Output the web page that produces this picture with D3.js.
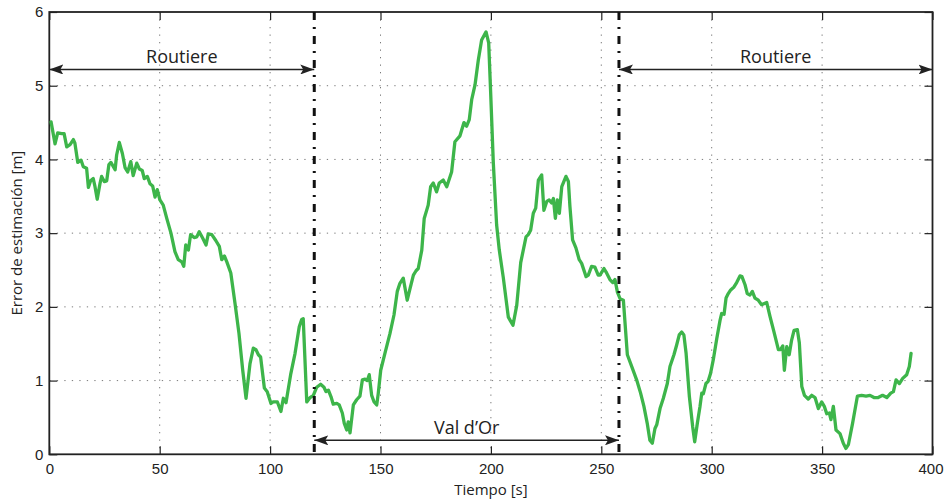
<!DOCTYPE html>
<html>
<head>
<meta charset="utf-8">
<script src="https://cdn.jsdelivr.net/npm/d3@7"></script>
<style>
  html, body { margin: 0; padding: 0; background: #fff; }
  svg { display: block; font-family: "Open Sans", "Noto Sans", sans-serif; }
</style>
</head>
<body>
<svg id="chart" width="944" height="499"></svg>
<script>
// Position-estimation error over time, with driving segments marked
const time = [0.8, 2.6, 3.8, 5.6, 6.7, 7.9, 9.4, 10.9, 11.6, 12.9, 14.4, 15.4, 16.9, 17.7, 18.7, 19.9, 20.7, 21.7, 23.0, 23.7,
  24.9, 26.0, 27.0, 27.9, 29.8, 30.5, 31.7, 33.1, 34.3, 35.5, 36.9, 38.0, 39.6, 40.8, 42.1, 43.0, 44.4, 45.6, 46.8, 47.9,
  48.9, 50.1, 51.6, 53.2, 55.1, 56.9, 58.4, 60.0, 60.9, 61.8, 63.0, 64.0, 65.6, 66.8, 67.9, 69.5, 71.0, 72.0, 73.6, 75.4,
  77.0, 78.1, 79.3, 80.4, 82.2, 84.1, 85.9, 87.6, 89.1, 90.9, 92.4, 93.6, 94.7, 95.7, 97.4, 98.7, 100.4, 101.4, 103.3, 104.9,
  106.0, 107.2, 109.3, 111.3, 113.2, 114.3, 115.0, 116.6, 118.1, 119.6, 121.1, 122.9, 124.4, 125.3, 126.4, 127.6, 128.6, 130.2, 131.3, 132.7,
  133.6, 134.7, 135.4, 136.2, 137.7, 139.2, 140.7, 141.8, 143.0, 144.0, 144.9, 146.0, 147.1, 148.3, 149.0, 150.1, 152.0, 154.3, 156.1, 157.6,
  158.8, 160.3, 162.1, 163.4, 164.9, 166.1, 167.1, 168.7, 169.8, 171.6, 172.7, 173.9, 175.4, 176.6, 178.4, 180.0, 182.2, 183.7, 186.0, 187.8,
  189.0, 190.2, 191.3, 192.8, 194.3, 195.8, 197.8, 199.0, 199.9, 201.1, 202.6, 203.8, 205.6, 207.9, 210.0, 211.7, 213.5, 215.9, 216.9, 218.0,
  219.2, 220.3, 221.5, 223.0, 224.0, 225.3, 226.4, 227.5, 228.3, 229.2, 230.1, 231.0, 232.1, 234.0, 235.1, 235.8, 237.0, 238.5, 240.0, 241.1,
  243.1, 244.1, 245.6, 247.1, 248.6, 249.4, 251.2, 252.4, 253.9, 255.2, 256.2, 257.3, 258.5, 260.0, 261.8, 263.8, 266.0, 267.8, 269.3, 270.8,
  272.0, 273.1, 274.3, 275.1, 276.6, 278.1, 279.9, 281.1, 282.9, 284.1, 285.3, 286.4, 287.4, 288.4, 289.9, 291.4, 292.3, 293.5, 294.7, 295.5,
  296.2, 297.4, 298.4, 299.5, 300.7, 302.3, 303.8, 304.5, 305.6, 306.5, 307.5, 308.6, 310.1, 311.3, 312.8, 313.7, 315.1, 316.1, 317.3, 318.4,
  319.6, 321.1, 322.6, 324.1, 324.9, 326.4, 328.2, 330.2, 331.2, 332.2, 332.9, 334.0, 335.1, 336.2, 337.3, 338.8, 339.7, 340.8, 342.0, 343.7,
  345.3, 346.8, 348.3, 349.8, 351.0, 352.1, 353.3, 354.0, 355.1, 356.3, 358.1, 359.6, 360.8, 361.9, 363.8, 366.0, 367.9, 369.9, 371.7, 373.5,
  375.4, 377.4, 379.3, 381.1, 382.3, 383.5, 385.0, 386.5, 388.3, 389.5, 390.3];

const error = [4.51, 4.21, 4.36, 4.35, 4.35, 4.17, 4.20, 4.27, 4.22, 3.96, 3.99, 3.90, 3.88, 3.62, 3.71, 3.74, 3.63, 3.46, 3.68, 3.77,
  3.70, 3.71, 3.93, 3.96, 3.86, 4.06, 4.23, 4.08, 3.89, 3.83, 3.97, 3.78, 3.95, 3.87, 3.85, 3.74, 3.77, 3.67, 3.64, 3.49,
  3.59, 3.45, 3.38, 3.20, 3.00, 2.75, 2.64, 2.61, 2.55, 2.84, 2.77, 2.98, 2.94, 2.95, 3.02, 2.93, 2.84, 2.99, 2.98, 2.90,
  2.82, 2.64, 2.69, 2.61, 2.46, 2.05, 1.64, 1.14, 0.76, 1.23, 1.44, 1.42, 1.35, 1.32, 0.90, 0.85, 0.69, 0.71, 0.71, 0.58,
  0.76, 0.70, 1.08, 1.37, 1.73, 1.83, 1.84, 0.71, 0.77, 0.80, 0.91, 0.95, 0.91, 0.85, 0.87, 0.78, 0.68, 0.69, 0.67, 0.56,
  0.42, 0.33, 0.44, 0.29, 0.67, 0.74, 0.79, 1.01, 1.02, 1.00, 1.08, 0.80, 0.71, 0.67, 0.83, 1.14, 1.37, 1.64, 1.89, 2.21,
  2.32, 2.39, 2.09, 2.25, 2.43, 2.49, 2.52, 2.77, 3.20, 3.38, 3.63, 3.68, 3.56, 3.68, 3.72, 3.63, 3.83, 4.24, 4.32, 4.50,
  4.45, 4.54, 4.81, 5.01, 5.35, 5.62, 5.73, 5.58, 4.90, 3.95, 3.11, 2.77, 2.40, 1.86, 1.75, 2.02, 2.60, 2.95, 2.98, 3.04,
  3.27, 3.34, 3.72, 3.79, 3.31, 3.43, 3.45, 3.41, 3.47, 3.20, 3.45, 3.27, 3.63, 3.77, 3.70, 3.36, 2.91, 2.80, 2.64, 2.59,
  2.41, 2.43, 2.55, 2.54, 2.43, 2.43, 2.52, 2.46, 2.37, 2.33, 2.37, 2.20, 2.11, 2.09, 1.35, 1.19, 1.01, 0.83, 0.65, 0.42,
  0.19, 0.15, 0.35, 0.40, 0.62, 0.76, 0.96, 1.19, 1.35, 1.48, 1.62, 1.66, 1.62, 1.37, 0.78, 0.37, 0.17, 0.42, 0.65, 0.83,
  0.82, 0.96, 0.99, 1.10, 1.28, 1.57, 1.82, 1.91, 1.90, 2.12, 2.18, 2.23, 2.27, 2.33, 2.42, 2.41, 2.30, 2.18, 2.16, 2.21,
  2.12, 2.09, 2.03, 2.05, 2.06, 1.87, 1.66, 1.42, 1.42, 1.47, 1.14, 1.46, 1.35, 1.55, 1.68, 1.69, 1.51, 0.92, 0.80, 0.75,
  0.80, 0.77, 0.62, 0.71, 0.65, 0.55, 0.56, 0.47, 0.65, 0.33, 0.28, 0.15, 0.08, 0.13, 0.42, 0.79, 0.80, 0.79, 0.80, 0.77,
  0.77, 0.80, 0.77, 0.83, 0.85, 1.01, 0.96, 1.03, 1.08, 1.19, 1.37];

// Scenario boundaries (s) and labelled segments
const boundaries = [120, 258];
const segments = [
  { label: "Routiere", from: 0, to: 120, level: 5.22 },
  { label: "Val d\u2019Or", from: 120, to: 258, level: 0.19 },
  { label: "Routiere", from: 258, to: 400, level: 5.22 }
];

const xTicks = [0, 50, 100, 150, 200, 250, 300, 350, 400];
const yTicks = [0, 1, 2, 3, 4, 5, 6];
const xTitle = "Tiempo [s]";
const yTitle = "Error de estimaci\u00f3n [m]";

const W = 944, H = 499;
const margin = { top: 12, right: 11.5, bottom: 44.7, left: 49.3 };
const iw = W - margin.left - margin.right;
const ih = H - margin.top - margin.bottom;

const svg = d3.select("#chart");
const g = svg.append("g").attr("transform", `translate(${margin.left},${margin.top})`);

const x = d3.scaleLinear().domain([0, 400]).range([0, iw]);
const y = d3.scaleLinear().domain([0, 6]).range([ih, 0]);
const fmt = d3.format("d");

// Dotted grid
const grid = g.append("g").attr("stroke", "#7a7a7a").attr("stroke-width", 1).attr("stroke-dasharray", "1.3,6.2");
grid.selectAll("line.gx").data(xTicks.slice(1, -1)).join("line")
  .attr("x1", d => x(d)).attr("x2", d => x(d)).attr("y1", 0).attr("y2", ih);
grid.selectAll("line.gy").data(yTicks.slice(1, -1)).join("line")
  .attr("x1", 0).attr("x2", iw).attr("y1", d => y(d)).attr("y2", d => y(d));

// Axes with inward ticks
const tickStyle = sel => {
  sel.select(".domain").remove();
  sel.selectAll(".tick line").attr("stroke", "#222").attr("stroke-width", 1.2);
  sel.selectAll("text").attr("font-size", 15).attr("fill", "#222").attr("font-family", null);
};
const bottomAxis = g.append("g").attr("transform", `translate(0,${ih})`)
  .call(d3.axisBottom(x).tickValues(xTicks).tickFormat(fmt).tickSizeInner(-8).tickSizeOuter(0).tickPadding(9))
  .call(tickStyle);
// keep the last label inside the canvas
bottomAxis.selectAll(".tick text").filter(d => d === 400).attr("dx", -2);
g.append("g")
  .call(d3.axisTop(x).tickValues(xTicks).tickSizeInner(-8).tickSizeOuter(0).tickFormat(""))
  .call(tickStyle);
g.append("g")
  .call(d3.axisLeft(y).tickValues(yTicks).tickFormat(fmt).tickSizeInner(-8).tickSizeOuter(0).tickPadding(6))
  .call(tickStyle);
g.append("g").attr("transform", `translate(${iw},0)`)
  .call(d3.axisRight(y).tickValues(yTicks).tickSizeInner(-8).tickSizeOuter(0).tickFormat(""))
  .call(tickStyle);

// Frame
g.append("rect").attr("x", 0).attr("y", 0).attr("width", iw).attr("height", ih)
  .attr("fill", "none").attr("stroke", "#222").attr("stroke-width", 1.8);

// Error curve
const pts = time.map((t, i) => [t, error[i]]);
g.append("path").datum(pts)
  .attr("fill", "none").attr("stroke", "#3db54a").attr("stroke-width", 3.3)
  .attr("stroke-linejoin", "round").attr("stroke-linecap", "round")
  .attr("d", d3.line().x(d => x(d[0])).y(d => y(d[1])));

// Segment boundaries (dash-dot)
g.selectAll("line.bound").data(boundaries).join("line")
  .attr("x1", d => x(d)).attr("x2", d => x(d)).attr("y1", 0).attr("y2", ih)
  .attr("stroke", "#111").attr("stroke-width", 3).attr("stroke-dasharray", "8,7,2,7");

// Arrow heads
const defs = svg.append("defs");
defs.append("marker").attr("id", "arrow")
  .attr("viewBox", "0 0 14 10").attr("refX", 14).attr("refY", 5)
  .attr("markerWidth", 14).attr("markerHeight", 10).attr("markerUnits", "userSpaceOnUse")
  .attr("orient", "auto-start-reverse")
  .append("path").attr("d", "M0,0 L14,5 L0,10 L3,5 Z").attr("fill", "#222");

const seg = g.selectAll("g.seg").data(segments).join("g");
seg.append("line")
  .attr("x1", d => x(d.from)).attr("x2", d => x(d.to))
  .attr("y1", d => y(d.level)).attr("y2", d => y(d.level))
  .attr("stroke", "#222").attr("stroke-width", 1.6)
  .attr("marker-start", "url(#arrow)").attr("marker-end", "url(#arrow)");
seg.append("text")
  .attr("x", d => x((d.from + d.to) / 2)).attr("y", d => y(d.level) - 6)
  .attr("text-anchor", "middle").attr("font-size", 18).attr("fill", "#222")
  .text(d => d.label);

// Axis titles
svg.append("text").attr("x", margin.left + iw / 2).attr("y", 495)
  .attr("text-anchor", "middle").attr("font-size", 15).attr("fill", "#222").text(xTitle);
svg.append("text").attr("transform", `translate(22,${margin.top + ih / 2}) rotate(-90)`)
  .attr("text-anchor", "middle").attr("font-size", 15).attr("fill", "#222").text(yTitle);
</script>
</body>
</html>
